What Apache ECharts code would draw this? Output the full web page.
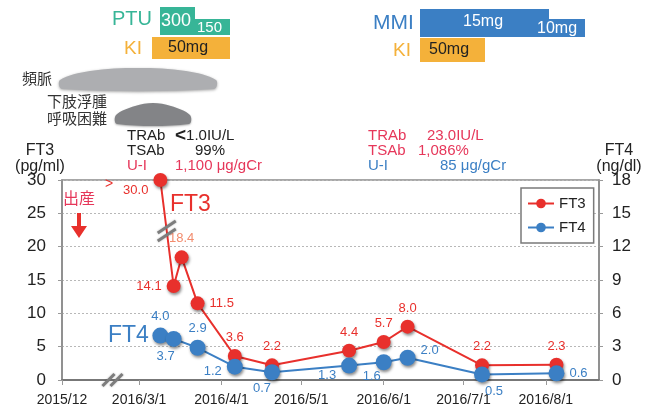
<!DOCTYPE html>
<html>
<head>
<meta charset="utf-8">
<script src="https://cdn.jsdelivr.net/npm/echarts@6/dist/echarts.min.js"></script>
<style>
html, body { margin: 0; background: #fff; }
#chart { width: 657px; height: 410px; }
</style>
</head>
<body>
<div id="chart"></div>
<script>
// data
const ft3Dates = ['2016-03-09', '2016-03-14', '2016-03-17', '2016-03-23', '2016-04-06', '2016-04-20', '2016-05-19', '2016-06-01', '2016-06-10', '2016-07-08', '2016-08-05'];
const ft3Values = [30.0, 14.1, 18.4, 11.5, 3.6, 2.2, 4.4, 5.7, 8.0, 2.2, 2.3];
const ft4Dates = ['2016-03-09', '2016-03-14', '2016-03-23', '2016-04-06', '2016-04-20', '2016-05-19', '2016-06-01', '2016-06-10', '2016-07-08', '2016-08-05'];
const ft4Values = [4.0, 3.7, 2.9, 1.2, 0.7, 1.3, 1.6, 2.0, 0.5, 0.6];
const xTickDates = ['2016-02-01', '2016-03-01', '2016-04-01', '2016-05-01', '2016-06-01', '2016-07-01', '2016-08-01'];
const xTickLabels = ['2015/12', '2016/3/1', '2016/4/1', '2016/5/1', '2016/6/1', '2016/7/1', '2016/8/1'];
const xMin = '2016-02-01';
const xMax = '2016-08-21';

// label placement (style only)
const ft3LabelPos = ['left', 'left', 'top', 'right', 'top', 'top', 'top', 'top', 'top', 'top', 'top'];
const ft3LabelOff = [[0, 10], [0, 0], [0, 0], [0, 0], [0, 0], [0, 0], [0, 0], [0, 0], [0, 0], [0, 0], [0, 0]];
const ft4LabelPos = ['top', 'bottom', 'top', 'left', 'bottom', 'left', 'bottom', 'right', 'bottom', 'right'];
const ft4LabelOff = [[0, 0], [-8, -2], [0, 0], [0, 5], [-10, -3], [0, 10], [-12, -5], [0, -7], [12, -3], [0, 0]];

const RED = '#e8302c';
const PINK = '#e6375a';
const BLUE = '#3b7fc4';
const TEAL = '#37b597';
const ORANGE = '#f4b13a';
const FONT = "'Liberation Sans', 'Noto Sans CJK JP', sans-serif";

const ts = d => echarts.number.parseDate(d).getTime();
const tickTs = xTickDates.map(ts);

const ft3Data = ft3Dates.map((d, i) => ({
    value: [ts(d), ft3Values[i]],
    label: { position: ft3LabelPos[i], offset: ft3LabelOff[i], color: i === 2 ? '#f28c6e' : RED }
}));
const ft4Data = ft4Dates.map((d, i) => ({
    value: [ts(d), ft4Values[i]],
    label: { position: ft4LabelPos[i], offset: ft4LabelOff[i] }
}));

function txt(x, y, text, fill, size, extra) {
    return {
        type: 'text', x: x, y: y, z: 10,
        style: Object.assign({ text: text, fill: fill, font: size + 'px ' + FONT, verticalAlign: 'middle' }, extra || {})
    };
}
function box(x, y, w, h, fill) {
    return { type: 'rect', z: 5, shape: { x: x, y: y, width: w, height: h }, style: { fill: fill } };
}

const baseGraphics = [
    // treatment bars, left
    txt(112, 19, 'PTU', TEAL, 20),
    box(160, 7, 35, 28, TEAL),
    box(195, 19, 35, 16, TEAL),
    txt(161, 21, '300', '#fff', 18),
    txt(197, 28, '150', '#fff', 15),
    txt(124, 49, 'KI', ORANGE, 19),
    box(152, 37, 78, 22, ORANGE),
    txt(168, 48, '50mg', '#222', 16),
    // symptoms
    txt(22, 80, '頻脈', '#333', 15),
    { type: 'polygon', z: 5, shape: { smooth: 0.35, points: [[62, 89], [60, 80], [90, 71], [138, 68], [186, 71], [216, 80], [214, 89]] },
      style: { fill: '#adaeb1', shadowBlur: 3, shadowColor: 'rgba(0,0,0,0.35)', shadowOffsetY: 1 } },
    txt(47, 103, '下肢浮腫', '#333', 15),
    txt(47, 120, '呼吸困難', '#333', 15),
    { type: 'polygon', z: 5, shape: { smooth: 0.35, points: [[117, 124], [116, 115], [135, 106], [153, 103], [171, 106], [190, 115], [189, 124]] },
      style: { fill: '#838487', shadowBlur: 2, shadowColor: 'rgba(0,0,0,0.3)', shadowOffsetY: 1 } },
    // lab values, left
    txt(127, 136, 'TRAb', '#222', 15),
    txt(175, 136, '{b|<}1.0IU/L', '#222', 15, { rich: { b: { fontSize: 19, fontWeight: 'bold', fill: '#222' } } }),
    txt(127, 151, 'TSAb', '#222', 15),
    txt(195, 151, '99%', '#222', 15),
    txt(127, 166, 'U-I', PINK, 15),
    txt(175, 166, '1,100 μg/gCr', PINK, 15),
    // treatment bars, right
    txt(373, 23, 'MMI', BLUE, 21),
    box(420, 9, 129, 28, BLUE),
    box(549, 19, 36, 18, BLUE),
    txt(463, 22, '15mg', '#fff', 16),
    txt(537, 29, '10mg', '#fff', 16),
    txt(393, 51, 'KI', ORANGE, 19),
    box(420, 38, 65, 24, ORANGE),
    txt(429, 50, '50mg', '#222', 16),
    // lab values, right
    txt(368, 136, 'TRAb', PINK, 15),
    txt(427, 136, '23.0IU/L', PINK, 15),
    txt(368, 151, 'TSAb', PINK, 15),
    txt(418, 151, '1,086%', PINK, 15),
    txt(368, 166, 'U-I', BLUE, 15),
    txt(440, 166, '85 μg/gCr', BLUE, 15),
    // axis titles
    txt(40, 151, 'FT3', '#222', 16, { align: 'center' }),
    txt(40, 167, '(pg/ml)', '#222', 16, { align: 'center' }),
    txt(619, 151, 'FT4', '#222', 16, { align: 'center' }),
    txt(619, 167, '(ng/dl)', '#222', 16, { align: 'center' }),
    // in-plot notes
    txt(63, 200, '出産', PINK, 16),
    { type: 'polygon', z: 10, shape: { points: [[77, 213], [81, 213], [81, 226], [87, 226], [79, 238], [71, 226], [77, 226]] }, style: { fill: RED } },
    txt(105, 184, '>', RED, 14),
    txt(170, 205, 'FT3', RED, 23),
    txt(108, 336, 'FT4', BLUE, 23)
];

const chart = echarts.init(document.getElementById('chart'), null, { renderer: 'canvas' });

const option = {
    animation: false,
    textStyle: { fontFamily: FONT },
    grid: { left: 62, right: 58, top: 180, bottom: 30, show: true, borderColor: '#8a8a8a', borderWidth: 1.5, backgroundColor: 'transparent' },
    legend: {
        orient: 'vertical',
        left: 521, top: 188,
        padding: [8, 8, 8, 6],
        itemGap: 9,
        itemWidth: 26, itemHeight: 12,
        borderColor: '#7a7a7a', borderWidth: 1.5,
        backgroundColor: '#fff',
        textStyle: { fontSize: 15, color: '#222' },
        data: ['FT3', 'FT4']
    },
    xAxis: {
        type: 'value',
        min: ts(xMin), max: ts(xMax),
        axisLine: { lineStyle: { color: '#777', width: 2 } },
        axisTick: { show: true, customValues: tickTs, length: 5, lineStyle: { color: '#999' } },
        axisLabel: {
            customValues: tickTs,
            color: '#222', fontSize: 14, margin: 13,
            formatter: v => xTickLabels[tickTs.indexOf(v)] || ''
        },
        splitLine: { show: false }
    },
    yAxis: [
        {
            type: 'value', min: 0, max: 30, interval: 5,
            axisLine: { show: true, lineStyle: { color: '#8a8a8a', width: 1.5 } },
            axisTick: { show: true, length: 4, lineStyle: { color: '#999' } },
            axisLabel: { color: '#222', fontSize: 17, margin: 16 },
            splitLine: { show: true, lineStyle: { color: '#b8b8b8', type: [2, 2] } }
        },
        {
            type: 'value', min: 0, max: 18, interval: 3,
            axisLine: { show: true, lineStyle: { color: '#8a8a8a', width: 1.5 } },
            axisTick: { show: true, length: 4, lineStyle: { color: '#999' } },
            axisLabel: { color: '#222', fontSize: 17, margin: 13 },
            splitLine: { show: false }
        }
    ],
    series: [
        {
            name: 'FT3', type: 'line', yAxisIndex: 0,
            data: ft3Data,
            symbol: 'circle', symbolSize: 14,
            lineStyle: { color: RED, width: 2 },
            itemStyle: { color: RED, shadowBlur: 3, shadowColor: 'rgba(0,0,0,0.45)', shadowOffsetX: 1, shadowOffsetY: 2 },
            label: { show: true, fontSize: 13, color: RED, distance: 5, formatter: p => p.value[1].toFixed(1) },
            z: 3
        },
        {
            name: 'FT4', type: 'line', yAxisIndex: 1,
            data: ft4Data,
            symbol: 'circle', symbolSize: 16,
            lineStyle: { color: BLUE, width: 2 },
            itemStyle: { color: BLUE, shadowBlur: 3, shadowColor: 'rgba(0,0,0,0.45)', shadowOffsetX: 1, shadowOffsetY: 2 },
            label: { show: true, fontSize: 13, color: BLUE, distance: 5, formatter: p => p.value[1].toFixed(1) },
            z: 4
        }
    ],
    graphic: baseGraphics
};

chart.setOption(option);

// break marks: on the FT3 line between the first two points, and on the x axis
const p0 = chart.convertToPixel({ xAxisIndex: 0, yAxisIndex: 0 }, [ts(ft3Dates[0]), ft3Values[0]]);
const p1 = chart.convertToPixel({ xAxisIndex: 0, yAxisIndex: 0 }, [ts(ft3Dates[1]), ft3Values[1]]);
const t = 0.48;
const bx = p0[0] + (p1[0] - p0[0]) * t;
const by = p0[1] + (p1[1] - p0[1]) * t;
const ax = chart.convertToPixel({ xAxisIndex: 0, yAxisIndex: 0 }, [ts('2016-02-20'), 0]);

function slash(cx, cy, dx, dy) {
    return { type: 'line', z: 12, shape: { x1: cx - dx, y1: cy + dy, x2: cx + dx, y2: cy - dy },
             style: { stroke: '#7d7d7d', lineWidth: 3, shadowBlur: 2, shadowColor: 'rgba(0,0,0,0.3)' } };
}

chart.setOption({
    graphic: baseGraphics.concat([
        slash(bx, by - 4, 9, 6),
        slash(bx, by + 4, 9, 6),
        slash(ax[0] - 4, ax[1], 6, 6),
        slash(ax[0] + 4, ax[1], 6, 6)
    ])
});
</script>
</body>
</html>
